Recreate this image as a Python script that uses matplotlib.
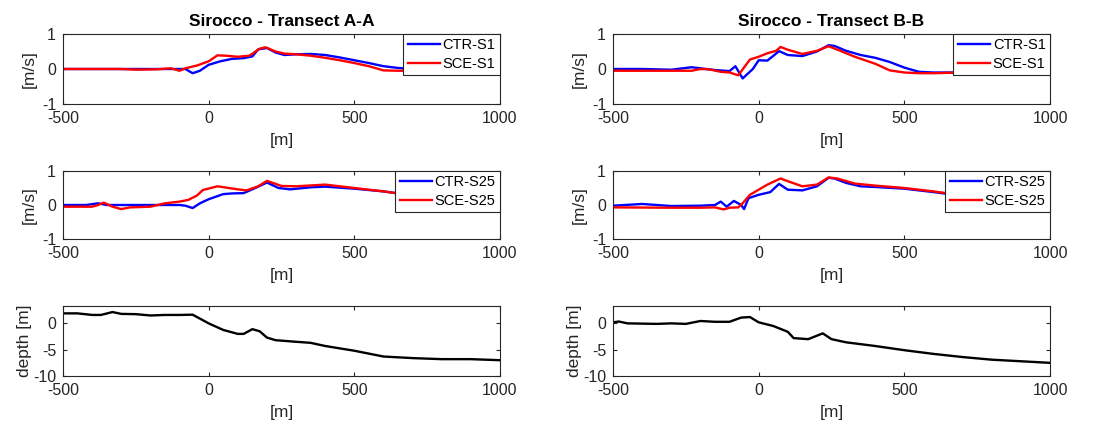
import matplotlib
matplotlib.use('Agg')
import matplotlib.pyplot as plt
import numpy as np

plt.rcParams['font.family'] = ['Liberation Sans', 'DejaVu Sans']
plt.rcParams['axes.unicode_minus'] = False

# ---- Transect A-A, surface (S1)
xa_ctr_s1 = [-500, -400, -300, -200, -100, -80, -55, -30, 0, 40, 80, 120, 150, 170, 200, 230, 260, 300, 350, 400, 450, 500, 550, 600, 650, 700, 800, 1000]
ya_ctr_s1 = [0.0, 0.0, 0.0, 0.0, 0.0, 0.0, -0.12, -0.05, 0.12, 0.22, 0.29, 0.31, 0.36, 0.56, 0.60, 0.47, 0.40, 0.42, 0.43, 0.40, 0.33, 0.25, 0.17, 0.08, 0.03, 0.0, 0.0, 0.0]
xa_sce_s1 = [-500, -400, -300, -250, -180, -130, -100, -80, -40, 0, 30, 60, 100, 140, 175, 195, 230, 260, 300, 350, 400, 450, 500, 550, 600, 650, 700, 800, 1000]
ya_sce_s1 = [0.0, 0.0, 0.0, -0.02, -0.01, 0.02, -0.05, 0.02, 0.10, 0.22, 0.39, 0.38, 0.35, 0.38, 0.58, 0.62, 0.50, 0.44, 0.42, 0.38, 0.32, 0.25, 0.17, 0.08, -0.04, -0.05, -0.05, -0.05, -0.05]

# ---- Transect B-B, surface (S1)
xb_ctr_s1 = [-500, -400, -300, -230, -200, -150, -100, -80, -55, -20, 0, 30, 70, 100, 150, 200, 240, 260, 300, 350, 400, 450, 500, 550, 600, 700, 800, 1000]
yb_ctr_s1 = [0.0, 0.0, -0.02, 0.05, 0.02, -0.03, -0.06, 0.08, -0.27, 0.0, 0.25, 0.24, 0.51, 0.40, 0.37, 0.50, 0.68, 0.66, 0.52, 0.40, 0.32, 0.20, 0.04, -0.08, -0.10, -0.10, -0.09, -0.07]
xb_sce_s1 = [-500, -400, -300, -230, -200, -170, -130, -100, -70, -30, 0, 30, 60, 75, 100, 150, 200, 240, 280, 330, 400, 450, 500, 550, 600, 700, 800, 1000]
yb_sce_s1 = [-0.05, -0.05, -0.05, -0.05, 0.0, -0.01, -0.08, -0.10, -0.18, 0.27, 0.35, 0.45, 0.52, 0.63, 0.55, 0.43, 0.52, 0.65, 0.52, 0.35, 0.15, -0.04, -0.10, -0.12, -0.12, -0.10, -0.10, -0.10]

# ---- Transect A-A, bottom (S25)
xa_ctr_s25 = [-500, -420, -380, -350, -300, -200, -100, -80, -55, -30, 0, 50, 80, 120, 160, 200, 240, 280, 350, 400, 500, 600, 700, 800, 1000]
ya_ctr_s25 = [0.0, 0.0, 0.05, 0.0, 0.0, 0.0, 0.0, -0.02, -0.09, 0.05, 0.17, 0.32, 0.34, 0.35, 0.50, 0.66, 0.50, 0.46, 0.52, 0.54, 0.48, 0.40, 0.28, 0.20, 0.05]
xa_sce_s25 = [-500, -400, -380, -360, -330, -300, -270, -200, -150, -100, -70, -40, -20, 30, 100, 130, 170, 200, 250, 300, 400, 500, 600, 700, 800, 1000]
ya_sce_s25 = [-0.05, -0.05, 0.0, 0.07, -0.05, -0.12, -0.07, -0.05, 0.05, 0.10, 0.15, 0.28, 0.44, 0.55, 0.46, 0.43, 0.55, 0.71, 0.56, 0.55, 0.60, 0.50, 0.40, 0.28, 0.20, 0.05]

# ---- Transect B-B, bottom (S25)
xb_ctr_s25 = [-500, -400, -300, -200, -150, -130, -110, -85, -60, -50, -35, 0, 40, 70, 100, 150, 200, 240, 260, 300, 350, 400, 500, 600, 700, 800, 1000]
yb_ctr_s25 = [-0.02, 0.03, -0.03, -0.02, 0.0, 0.10, -0.05, 0.12, 0.0, -0.12, 0.20, 0.30, 0.38, 0.62, 0.45, 0.43, 0.55, 0.80, 0.78, 0.65, 0.55, 0.53, 0.48, 0.38, 0.27, 0.18, -0.03]
xb_sce_s25 = [-500, -300, -200, -150, -120, -100, -70, -55, -30, 0, 30, 75, 100, 150, 200, 240, 270, 330, 400, 500, 600, 700, 800, 1000]
yb_sce_s25 = [-0.07, -0.08, -0.08, -0.07, -0.13, -0.08, -0.07, 0.05, 0.30, 0.45, 0.60, 0.78, 0.70, 0.55, 0.60, 0.81, 0.78, 0.63, 0.57, 0.50, 0.40, 0.28, 0.19, 0.02]

# ---- bathymetry
xa_depth = [-500, -450, -400, -370, -330, -300, -250, -200, -150, -100, -55, 0, 50, 100, 120, 150, 175, 200, 230, 300, 350, 400, 500, 600, 700, 800, 900, 1000]
za_depth = [1.9, 1.9, 1.6, 1.6, 2.15, 1.8, 1.75, 1.5, 1.6, 1.6, 1.65, 0.0, -1.25, -2.0, -2.0, -1.1, -1.5, -2.7, -3.2, -3.5, -3.7, -4.3, -5.2, -6.3, -6.6, -6.8, -6.8, -7.0]
xb_depth = [-500, -480, -450, -350, -300, -250, -200, -150, -100, -60, -30, 0, 50, 100, 120, 170, 220, 250, 300, 400, 500, 600, 700, 800, 1000]
zb_depth = [0.2, 0.35, 0.0, -0.1, 0.0, -0.1, 0.45, 0.3, 0.3, 1.1, 1.2, 0.2, -0.5, -1.6, -2.8, -3.0, -1.9, -3.0, -3.6, -4.3, -5.1, -5.8, -6.4, -6.9, -7.5]

fig = plt.figure(figsize=(11.1, 4.3), dpi=100)

left_x = [63/1110, 613/1110]
w = 437/1110
rows = [(1-104/430, 70/430), (1-239/430, 68/430), (1-376/430, 70/430)]

def style(ax):
    ax.set_xlim(-500, 1000)
    ax.set_xticks([-500, 0, 500, 1000])
    ax.tick_params(direction='in', top=True, right=True, labelsize=11.5,
                   colors='0.15', length=3, pad=5)
    for s in ax.spines.values():
        s.set_color('0.15')
        s.set_linewidth(0.8)
    ax.set_xlabel('[m]', fontsize=12.5, color='0.15', labelpad=5)

vel = [
    [(xa_ctr_s1, ya_ctr_s1, xa_sce_s1, ya_sce_s1, 'S1'),
     (xb_ctr_s1, yb_ctr_s1, xb_sce_s1, yb_sce_s1, 'S1')],
    [(xa_ctr_s25, ya_ctr_s25, xa_sce_s25, ya_sce_s25, 'S25'),
     (xb_ctr_s25, yb_ctr_s25, xb_sce_s25, yb_sce_s25, 'S25')],
]
titles = ['Sirocco - Transect A-A', 'Sirocco - Transect B-B']
depths = [(xa_depth, za_depth), (xb_depth, zb_depth)]

for c in range(2):
    for r in range(2):
        b, h = rows[r]
        ax = fig.add_axes([left_x[c], b, w, h])
        xc, yc, xs, ys, lev = vel[r][c]
        ax.plot(xc, yc, color='#0000ff', lw=1.7, label='CTR-' + lev)
        ax.plot(xs, ys, color='#ff0000', lw=1.7, label='SCE-' + lev)
        ax.set_ylim(-1, 1)
        ax.set_yticks([-1, 0, 1])
        style(ax)
        ax.set_ylabel('[m/s]', fontsize=12.5, color='0.15', labelpad=4)
        leg = ax.legend(loc='upper right', borderaxespad=0.0, fancybox=False,
                        framealpha=1, edgecolor='0.15', fontsize=10.5,
                        handlelength=2.2, borderpad=0.3, labelspacing=0.3,
                        handletextpad=0.2)
        leg.get_frame().set_linewidth(0.8)
        if r == 0:
            ax.set_title(titles[c], fontsize=12.5, fontweight='bold', pad=6)
    b, h = rows[2]
    ax = fig.add_axes([left_x[c], b, w, h])
    ax.plot(depths[c][0], depths[c][1], color='black', lw=1.7)
    ax.set_ylim(-10, 3.3)
    ax.set_yticks([-10, -5, 0])
    style(ax)
    ax.set_ylabel('depth [m]', fontsize=12.5, color='0.15', labelpad=1)

fig.savefig('out.png', dpi=100)
